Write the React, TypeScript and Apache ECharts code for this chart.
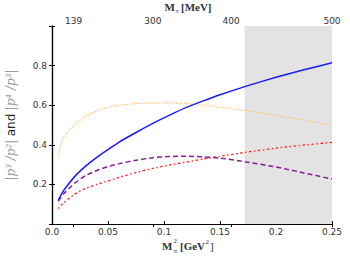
import React, { useEffect, useRef } from "react";
import * as echarts from "echarts";

const xs = [0.0056, 0.01, 0.02, 0.03, 0.04, 0.05, 0.06, 0.075, 0.09, 0.105, 0.12, 0.135, 0.15, 0.175, 0.2, 0.225, 0.25];
const blueVals = [0.12, 0.166, 0.238, 0.292, 0.337, 0.376, 0.414, 0.462, 0.508, 0.55, 0.589, 0.622, 0.653, 0.699, 0.741, 0.779, 0.814];
const orangeVals = [0.345, 0.436, 0.5, 0.545, 0.572, 0.589, 0.6, 0.608, 0.612, 0.612, 0.607, 0.6, 0.589, 0.572, 0.548, 0.524, 0.5];
const purpleVals = [0.115, 0.15, 0.205, 0.245, 0.27, 0.29, 0.305, 0.322, 0.335, 0.341, 0.342, 0.339, 0.333, 0.312, 0.288, 0.258, 0.227];
const redVals = [0.078, 0.105, 0.15, 0.18, 0.2, 0.218, 0.236, 0.26, 0.281, 0.298, 0.313, 0.328, 0.342, 0.364, 0.383, 0.399, 0.412];
const topTickMeV = [139, 300, 400, 500];
const shadeRange = [0.172, 0.25];

const pairs = (ys: number[]) => xs.map((x, i) => [x, ys[i]]);

export default function App() {
  const ref = useRef<HTMLDivElement>(null);
  useEffect(() => {
    const chart = echarts.init(ref.current!, null, { renderer: "svg" });
    const tickFont = { fontFamily: "DejaVu Sans", fontSize: 9, color: "#333" };
    const serif = "Liberation Serif";
    const topVals = topTickMeV.map((m) => (m / 1000) * (m / 1000));
    const t = (text: string, x: number, y: number, font: string) => ({
      type: "text",
      x,
      y,
      style: { text, font, fill: "#333", textVerticalAlign: "middle" },
    });
    chart.setOption({
      animation: false,
      grid: { left: 52, right: 18, top: 26, bottom: 40 },
      xAxis: [
        {
          type: "value",
          position: "bottom",
          min: 0,
          max: 0.25,
          interval: 0.05,
          axisLine: { lineStyle: { color: "#000", width: 1.2 } },
          axisTick: { inside: true, length: 3, lineStyle: { color: "#000" } },
          splitLine: { show: false },
          axisLabel: {
            ...tickFont,
            margin: 3,
            formatter: (v: number) => (v === 0 ? "0.0" : String(+v.toFixed(2))),
          },
        },
        {
          type: "value",
          position: "top",
          min: 0,
          max: 0.25,
          interval: 0.05,
          axisLine: { lineStyle: { color: "#000", width: 1.2 } },
          axisTick: { inside: true, length: 3, lineStyle: { color: "#000" }, customValues: topVals },
          splitLine: { show: false },
          axisLabel: {
            ...tickFont,
            margin: 1,
            customValues: topVals,
            formatter: (v: number) => String(Math.round(Math.sqrt(v) * 1000)),
          },
        },
      ],
      yAxis: [
        {
          type: "value",
          position: "left",
          min: 0,
          max: 1,
          interval: 0.2,
          axisLine: { show: true, lineStyle: { color: "#000", width: 1.2 } },
          axisTick: { show: true, inside: true, length: 3, lineStyle: { color: "#000" } },
          splitLine: { show: false },
          axisLabel: {
            ...tickFont,
            margin: 5,
            formatter: (v: number) => (v === 0 || v === 1 ? "" : v.toFixed(1)),
          },
        },
        {
          type: "value",
          position: "right",
          min: 0,
          max: 1,
          interval: 0.2,
          axisLine: { show: true, lineStyle: { color: "#000", width: 1.2 } },
          axisTick: { show: true, inside: true, length: 3, lineStyle: { color: "#000" } },
          splitLine: { show: false },
          axisLabel: { show: false },
        },
      ],
      series: [
        {
          type: "line",
          data: pairs(orangeVals),
          showSymbol: false,
          smooth: 0.2,
          z: 3,
          lineStyle: { color: "#ffb547", width: 1.2, type: [1, 1.5] },
          markArea: {
            silent: true,
            itemStyle: { color: "#e3e3e3" },
            data: [[{ xAxis: shadeRange[0] }, { xAxis: shadeRange[1] }]],
          },
        },
        {
          type: "line",
          data: pairs(redVals),
          showSymbol: false,
          smooth: 0.2,
          z: 4,
          lineStyle: { color: "#ff2020", width: 1.3, type: [1.5, 2.5, 2.5, 2.5] },
        },
        {
          type: "line",
          data: pairs(purpleVals),
          showSymbol: false,
          smooth: 0.2,
          z: 5,
          lineStyle: { color: "#8a1a9a", width: 1.5, type: [5, 3] },
        },
        {
          type: "line",
          data: pairs(blueVals),
          showSymbol: false,
          smooth: 0.2,
          z: 6,
          lineStyle: { color: "#1a1aff", width: 1.5 },
        },
      ],
      graphic: [
        // bottom axis title: M_pi^2 [GeV^2]
        t("M", 162, 246, `bold 11px ${serif}`),
        t("2", 173.5, 241, `7px ${serif}`),
        t("π", 173.5, 250.5, `7px ${serif}`),
        t("[GeV", 180, 246, `bold 11px ${serif}`),
        t("2", 205.5, 242, `7px ${serif}`),
        t("]", 210, 246, `11px ${serif}`),
        // top axis title: M_pi [MeV]
        t("M", 164.5, 6.5, `bold 11px ${serif}`),
        t("π", 175.5, 10.5, `6px ${serif}`),
        t("[MeV]", 181, 6.5, `bold 11px ${serif}`),
        // y axis title
        {
          type: "text",
          x: 11,
          y: 125,
          rotation: Math.PI / 2,
          style: {
            text: "{g||p³ /p²|} {k|and} {g||p⁴ /p³|}",
            textAlign: "center",
            textVerticalAlign: "middle",
            rich: {
              g: { font: `italic 12px DejaVu Serif`, fill: "#9a9a9a" },
              k: { font: "12px DejaVu Sans", fill: "#222" },
            },
          },
        },
      ],
    });
    return () => chart.dispose();
  }, []);
  return <div ref={ref} style={{ position: "absolute", left: 0, top: 0, width: 350, height: 264 }} />;
}
